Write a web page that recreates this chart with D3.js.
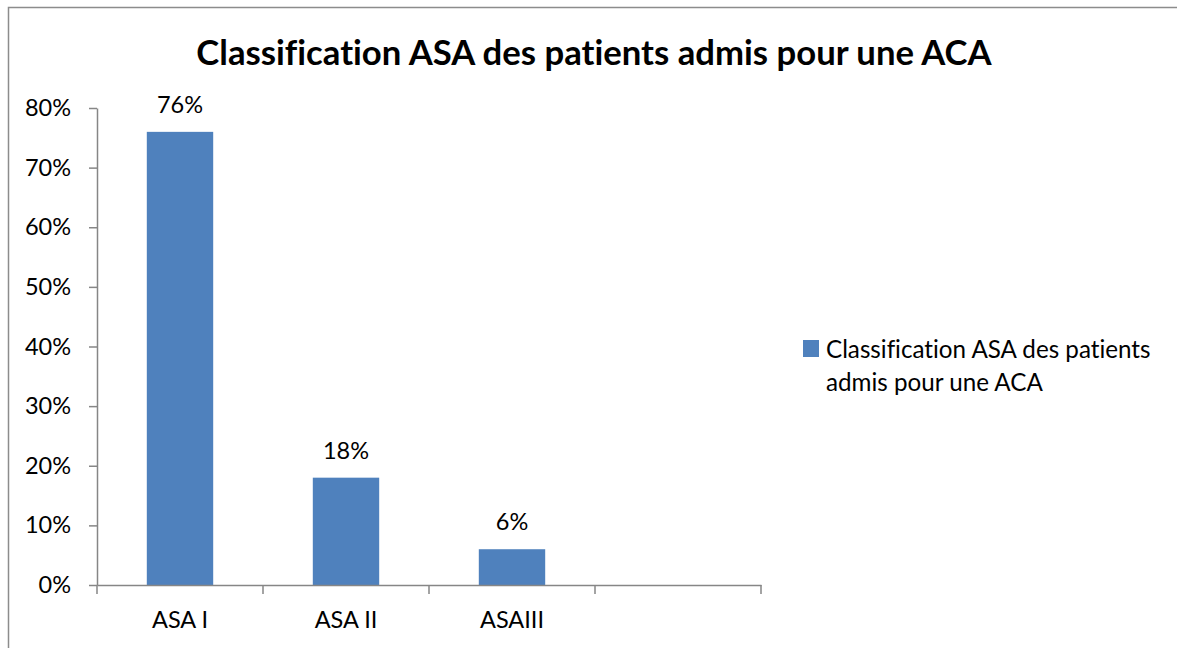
<!DOCTYPE html>
<html>
<head>
<meta charset="utf-8">
<script src="https://cdn.jsdelivr.net/npm/d3@7"></script>
<style>
  body { margin: 0; background: #fff; }
  svg { font-family: Lato, "Open Sans", sans-serif; font-variant-ligatures: none; }
</style>
</head>
<body>
<div id="chart"></div>
<script>
// data
const categories = ['ASA I', 'ASA II', 'ASAIII', ''];
const values = [0.76, 0.18, 0.06, null];
const yTicks = [0, 0.1, 0.2, 0.3, 0.4, 0.5, 0.6, 0.7, 0.8];
const seriesName = 'Classification ASA des patients admis pour une ACA';
const legendLines = ['Classification ASA des patients', 'admis pour une ACA'];

const W = 1177, H = 648;
const margin = {top: 108, left: 97, bottom: 63, right: 416};
const barColor = '#4f81bd';
const axisColor = '#868686';
const fs = '23.5px';

const svg = d3.select('#chart')
  .append('svg')
    .attr('width', W)
    .attr('height', H);

// outer frame
svg.append('rect')
  .attr('x', 8.5).attr('y', 7.5)
  .attr('width', W + 10).attr('height', H + 10)
  .attr('fill', 'none')
  .attr('stroke', '#8c8c8c')
  .attr('stroke-width', 1.5);

// title
svg.append('text')
  .attr('x', 594)
  .attr('y', 65)
  .attr('text-anchor', 'middle')
  .style('font-size', '34.7px')
  .style('font-weight', 'bold')
  .text(seriesName);

const x = d3.scaleBand()
  .domain(categories)
  .range([margin.left, W - margin.right])
  .paddingInner(0.6)
  .paddingOuter(0.3);

const y = d3.scaleLinear()
  .domain([0, 0.8])
  .range([H - margin.bottom, margin.top]);

// Y axis
const yAxis = svg.append('g')
  .attr('transform', `translate(${margin.left},0)`)
  .call(d3.axisLeft(y).tickValues(yTicks).tickFormat(d3.format('.0%')).tickSize(8).tickSizeOuter(0).tickPadding(18));
yAxis.select('.domain').attr('stroke', axisColor).attr('stroke-width', 1.5);
yAxis.selectAll('.tick line').attr('stroke', axisColor).attr('stroke-width', 1.5);
yAxis.selectAll('text')
  .attr('fill', '#000')
  .style('font-size', fs)
  .style('font-family', 'Lato, sans-serif');

const barData = categories.map((c, i) => ({cat: c, v: values[i]})).filter(d => d.v != null);

// bars
svg.selectAll('.bar')
  .data(barData)
  .enter().append('rect')
    .attr('class', 'bar')
    .attr('x', d => x(d.cat))
    .attr('y', d => y(d.v))
    .attr('width', x.bandwidth())
    .attr('height', d => y(0) - y(d.v))
    .attr('fill', barColor);

// value labels
svg.selectAll('.val')
  .data(barData)
  .enter().append('text')
    .attr('class', 'val')
    .attr('x', d => x(d.cat) + x.bandwidth() / 2)
    .attr('y', d => y(d.v) - 19)
    .attr('text-anchor', 'middle')
    .style('font-size', fs)
    .text(d => d3.format('.0%')(d.v));

// X axis: category labels, ticks between categories
const xAxis = svg.append('g')
  .attr('transform', `translate(0,${y(0)})`)
  .call(d3.axisBottom(x).tickSize(0).tickPadding(26));
xAxis.select('.domain').attr('stroke', axisColor).attr('stroke-width', 1.5);
xAxis.selectAll('text')
  .attr('fill', '#000')
  .style('font-size', fs)
  .style('font-family', 'Lato, sans-serif');

const step = x.step();
const bounds = categories.map(c => x(c) - (step - x.bandwidth()) / 2);
bounds.push(bounds[bounds.length - 1] + step);
xAxis.selectAll('.bound')
  .data(bounds)
  .enter().append('line')
    .attr('class', 'bound')
    .attr('x1', d => d).attr('x2', d => d)
    .attr('y1', 0).attr('y2', 9)
    .attr('stroke', axisColor)
    .attr('stroke-width', 1.5);

// legend
const legend = svg.append('g');
legend.append('rect')
  .attr('x', 803).attr('y', 340)
  .attr('width', 16).attr('height', 17)
  .attr('fill', barColor);
legend.selectAll('text')
  .data(legendLines)
  .enter().append('text')
    .attr('x', 826)
    .attr('y', (d, i) => 358 + i * 33)
    .style('font-size', '24.2px')
    .text(d => d);
</script>
</body>
</html>
